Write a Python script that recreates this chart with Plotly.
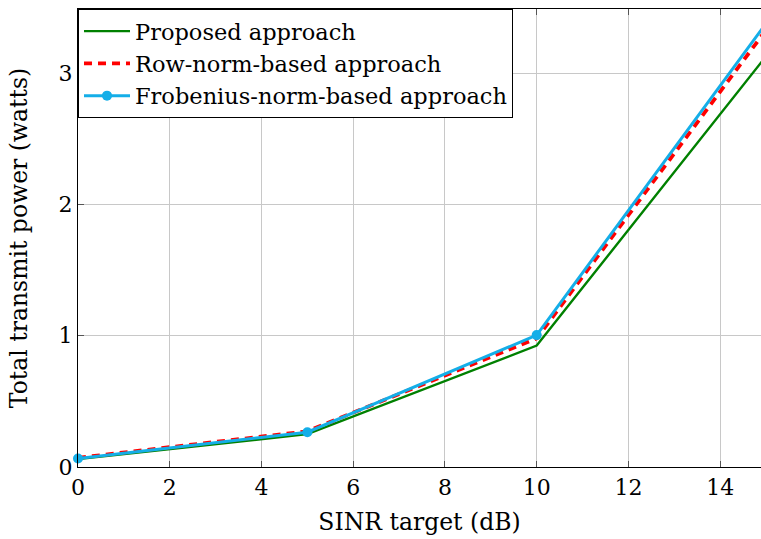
import plotly.graph_objects as go

# SINR targets (dB)
sinr_db = [0, 5, 10, 15]

# Total transmit power (watts) for each approach
proposed = [0.060, 0.250, 0.925, 3.13]
row_norm = [0.070, 0.272, 0.980, 3.33]
frobenius = [0.065, 0.265, 1.005, 3.38]

x_ticks = [0, 2, 4, 6, 8, 10, 12, 14]
y_ticks = [0, 1, 2, 3]

FONT = "DejaVu Serif, serif"

fig = go.Figure()
fig.add_trace(go.Scatter(
    x=sinr_db, y=proposed, mode="lines", name="Proposed approach",
    line=dict(color="#008000", width=2.4),
))
fig.add_trace(go.Scatter(
    x=sinr_db, y=row_norm, mode="lines", name="Row-norm-based approach",
    line=dict(color="#ff0000", width=3.8, dash="8px,6px"),
))
fig.add_trace(go.Scatter(
    x=sinr_db, y=frobenius, mode="lines+markers",
    name="Frobenius-norm-based approach",
    line=dict(color="#14aee8", width=3),
    marker=dict(color="#14aee8", size=10),
    cliponaxis=False,
))

fig.update_layout(
    width=761, height=539,
    margin=dict(l=78, r=0, t=9, b=72),
    plot_bgcolor="white", paper_bgcolor="white",
    font=dict(family=FONT, size=22, color="black"),
    showlegend=True,
    legend=dict(
        x=0, y=1, xanchor="left", yanchor="top",
        bgcolor="white", bordercolor="black", borderwidth=1,
        font=dict(family=FONT, size=22.5),
        itemwidth=46, tracegroupgap=0,
    ),
    xaxis=dict(
        range=[0, 14.89], tickvals=x_ticks, ticktext=[str(v) for v in x_ticks],
        showgrid=True, gridcolor="#c8c8c8", gridwidth=1,
        showline=True, linecolor="black", linewidth=1.3, mirror="ticks",
        ticks="inside", ticklen=6, tickcolor="#555", zeroline=False,
        title=dict(text="SINR target (dB)", font=dict(family=FONT, size=23.5), standoff=15),
    ),
    yaxis=dict(
        range=[0, 3.49], tickvals=y_ticks, ticktext=[str(v) for v in y_ticks],
        showgrid=True, gridcolor="#c8c8c8", gridwidth=1,
        showline=True, linecolor="black", linewidth=1.3,
        ticks="inside", ticklen=6, tickcolor="#555", zeroline=False,
        title=dict(text="Total transmit power (watts)", font=dict(family=FONT, size=23.5), standoff=24),
    ),
)

fig.write_html("out.html")
